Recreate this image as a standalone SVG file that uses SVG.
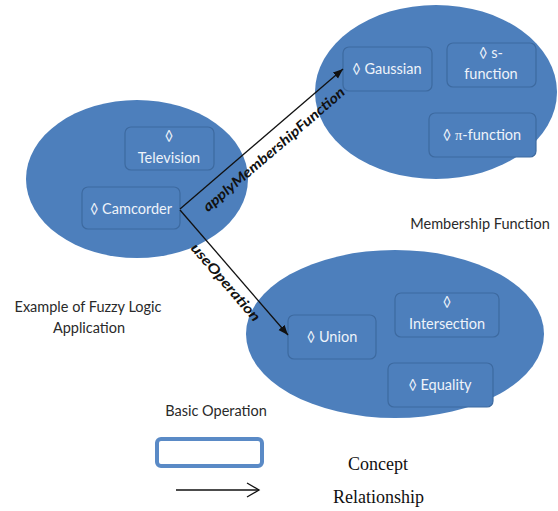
<svg xmlns="http://www.w3.org/2000/svg" width="558" height="511" viewBox="0 0 558 511">
<style>
.set{fill:#4d7fbc;}
.box{fill:#4d7fbc;stroke:#3d6aa0;stroke-width:1.2;}
.bt{font-family:Lato,"Liberation Sans",sans-serif;font-size:14.5px;fill:#eef3fa;text-anchor:middle;}
.lbl{font-family:Lato,"Liberation Sans",sans-serif;font-size:14.5px;fill:#2a2a2a;text-anchor:middle;}
.rel{font-family:Lato,"Liberation Sans",sans-serif;font-size:14px;font-weight:bold;font-style:italic;fill:#111;text-anchor:middle;}
.leg{font-family:"Liberation Serif",serif;font-size:18px;fill:#111;}
.con{stroke:#111;stroke-width:1.3;fill:none;}
.pi{font-family:"Liberation Serif",serif;}
</style>
<defs>
<marker id="ah" markerUnits="userSpaceOnUse" markerWidth="12" markerHeight="10" refX="10" refY="4" orient="auto">
<path d="M0,0 L10,4 L0,8 Z" fill="#111"/>
</marker>
</defs>
<rect width="558" height="511" fill="#fff"/>
<g id="set-application">
<ellipse class="set" cx="137" cy="179" rx="111" ry="79"/>
<text class="lbl" x="88" y="312">Example of Fuzzy Logic</text>
<text class="lbl" x="89" y="333">Application</text>
</g>
<g id="set-membership">
<ellipse class="set" cx="436" cy="92" rx="121" ry="87"/>
<text class="lbl" x="480" y="229">Membership Function</text>
</g>
<g id="set-operation">
<ellipse class="set" cx="395" cy="334" rx="149" ry="84"/>
<text class="lbl" x="216" y="416">Basic Operation</text>
</g>
<g id="node-television">
<rect class="box" x="125" y="127" width="89" height="43" rx="6"/>
<text class="bt" x="169" y="141">◊</text>
<text class="bt" x="169" y="163">Television</text>
</g>
<g id="node-camcorder">
<rect class="box" x="82" y="187" width="98" height="42" rx="6"/>
<text class="bt" x="131" y="214">◊ Camcorder</text>
</g>
<g id="node-gaussian">
<rect class="box" x="343" y="47" width="89" height="44" rx="6"/>
<text class="bt" x="387" y="74">◊ Gaussian</text>
</g>
<g id="node-sfunction">
<rect class="box" x="447" y="43" width="89" height="44" rx="6"/>
<text class="bt" x="491" y="58">◊ s-</text>
<text class="bt" x="491" y="79">function</text>
</g>
<g id="node-pifunction">
<rect class="box" x="429" y="113" width="107" height="44" rx="6"/>
<text class="bt" x="482" y="140">◊ <tspan class="pi">π</tspan>-function</text>
</g>
<g id="node-union">
<rect class="box" x="288" y="315" width="88" height="44" rx="6"/>
<text class="bt" x="332" y="342">◊ Union</text>
</g>
<g id="node-intersection">
<rect class="box" x="395" y="293" width="104" height="44" rx="6"/>
<text class="bt" x="447" y="307">◊</text>
<text class="bt" x="447" y="329">Intersection</text>
</g>
<g id="node-equality">
<rect class="box" x="388" y="363" width="105" height="44" rx="6"/>
<text class="bt" x="440" y="390">◊ Equality</text>
</g>
<g id="connectors">
<line class="con" x1="180" y1="209" x2="343" y2="69" marker-end="url(#ah)"/>
<line class="con" x1="180" y1="210" x2="288" y2="335" marker-end="url(#ah)"/>
<text class="rel" transform="translate(277,153) rotate(-40.7)" textLength="182" lengthAdjust="spacingAndGlyphs">applyMembershipFunction</text>
<text class="rel" transform="translate(222,285.5) rotate(49.2)" textLength="98" lengthAdjust="spacingAndGlyphs">useOperation</text>
</g>
<g id="legend">
<rect x="157" y="439" width="105" height="27" rx="4" fill="#fff" stroke="#5a8ac6" stroke-width="4"/>
<line x1="176" y1="490" x2="259" y2="490" stroke="#111" stroke-width="1.3"/>
<path d="M247,483 L259,490 L247,497" fill="none" stroke="#111" stroke-width="1.3"/>
<text class="leg" x="348" y="470">Concept</text>
<text class="leg" x="333" y="503">Relationship</text>
</g>
</svg>
